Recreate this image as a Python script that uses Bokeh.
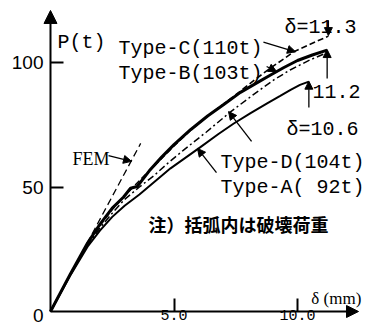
from bokeh.plotting import figure
from bokeh.models import Range1d, LinearAxis, FixedTicker, Arrow, NormalHead, Label
from bokeh.embed import file_html
from bokeh.resources import INLINE

# ---------------- data ----------------
typeA_x = [0, 0.8, 1.5, 2.0, 2.5, 3.0, 3.6, 4.2, 4.86, 5.5, 6.07, 6.8, 7.42, 8.1, 8.77, 9.3, 9.72, 10.1, 10.46]
typeA_y = [0, 14.5, 26, 32.5, 38, 42.5, 47, 52, 57.5, 62, 66, 71.3, 75.5, 79.7, 83.6, 86.6, 89, 91, 92.3]

typeB_x = [0, 0.8, 1.5, 2.0, 2.5, 2.96, 3.24, 3.51, 4.0, 4.5, 5.0, 5.67, 6.36, 7.0, 7.69, 8.3, 8.91, 9.45, 10.0, 10.6, 11.2]
typeB_y = [0, 15, 27.5, 35, 41.5, 46, 49.5, 50.2, 56.5, 62, 67, 73, 78.5, 83, 88, 91.5, 95, 98, 100.8, 103, 105]

typeC_x = [0, 0.8, 1.5, 2.0, 2.5, 3.0, 3.5, 4.0, 4.5, 5.0, 5.67, 6.36, 7.0, 7.69, 8.3, 8.91, 9.45, 9.85, 10.4, 10.8, 11.25]
typeC_y = [0, 15, 27, 34.5, 41, 46.5, 51.5, 56.5, 61.5, 66.5, 72.8, 78.5, 83.3, 88.5, 93.3, 97.8, 101.5, 104.3, 106.8, 108.6, 110.6]

typeD_x = [0, 0.8, 1.5, 2.0, 2.5, 3.0, 3.6, 4.18, 4.8, 5.4, 6.3, 7.29, 8.2, 9.04, 9.7, 10.5, 11.2]
typeD_y = [0, 15, 26.5, 33.5, 39.5, 45, 50, 54.5, 60, 64.9, 72, 80.2, 87, 93, 97, 101, 104]

fem_x = [0, 3.65]
fem_y = [0, 67.5]

x_tick_vals = [5, 10]
x_tick_labels = ["5.0", "10.0"]
y_tick_vals = [50, 100]
y_tick_labels = ["50", "100"]
origin_label = "0"

series_labels = ["Type-C(110t)", "Type-B(103t)", "Type-D(104t)", "Type-A( 92t)"]
end_labels = ["δ=11.3", "11.2", "δ=10.6"]
fem_label = "FEM"
note_label = "注）括弧内は破壊荷重"
x_title = "δ (mm)"
y_title = "P(t)"

# ---------------- figure ----------------
p = figure(width=368, height=326,
           x_range=Range1d(-2.024, 12.874), y_range=Range1d(-6.024, 124.9),
           x_axis_type=None, y_axis_type=None,
           toolbar_location=None, output_backend="svg", min_border=0)
p.outline_line_color = None
p.background_fill_color = "white"
p.border_fill_color = "white"

MONO = "Liberation Mono"

xaxis = LinearAxis(fixed_location=0, ticker=FixedTicker(ticks=x_tick_vals),
                   major_label_overrides={v: t for v, t in zip(x_tick_vals, x_tick_labels)})
yaxis = LinearAxis(fixed_location=0, ticker=FixedTicker(ticks=y_tick_vals),
                   major_label_overrides={v: t for v, t in zip(y_tick_vals, y_tick_labels)})
for ax in (xaxis, yaxis):
    ax.axis_line_color = None
    ax.major_tick_in = 13
    ax.major_tick_out = 0
    ax.major_tick_line_width = 2
    ax.major_tick_line_color = "black"
    ax.minor_tick_line_color = None
    ax.major_label_text_color = "black"
xaxis.major_label_text_font = MONO
xaxis.major_label_text_font_size = "15px"
xaxis.major_label_standoff = -2
yaxis.major_label_text_font = "Liberation Sans"
yaxis.major_label_text_font_size = "19px"
yaxis.major_label_standoff = 7
p.add_layout(xaxis, "below")
p.add_layout(yaxis, "left")

# axis lines with arrow heads
p.add_layout(Arrow(end=NormalHead(size=13, fill_color="black", line_color="black"),
                   x_start=0, y_start=0, x_end=0, y_end=120.9, line_width=2))
p.add_layout(Arrow(end=NormalHead(size=12, fill_color="black", line_color="black"),
                   x_start=0, y_start=0, x_end=12.47, y_end=0, line_width=2))

# curves
p.line(fem_x, fem_y, line_color="black", line_width=1.3, line_dash="7 4")
p.line(typeA_x, typeA_y, line_color="black", line_width=2)
p.line(typeD_x, typeD_y, line_color="black", line_width=1.5, line_dash="7 3 2 3")
p.line(typeC_x, typeC_y, line_color="black", line_width=1.6, line_dash="6 3")
p.line(typeB_x, typeB_y, line_color="black", line_width=3)

def lab(x, y, t, font=MONO, size="20px", align="left", baseline="alphabetic", style="normal"):
    p.add_layout(Label(x=x, y=y, text=t, text_font=font, text_font_size=size,
                       text_align=align, text_baseline=baseline, text_color="black",
                       text_font_style=style))

lab(0.283, 108.0, y_title)
lab(2.753, 105.6, series_labels[0])
lab(2.753, 95.6, series_labels[1])
lab(6.883, 59.8, series_labels[2])
lab(6.883, 49.8, series_labels[3])
lab(9.474, 114.1, end_labels[0])
lab(10.607, 88.4, end_labels[1])
lab(9.555, 73.1, end_labels[2])
lab(0.891, 61.4, fem_label, font="Liberation Serif", size="18px")
lab(3.968, 35.3, note_label, font="Noto Sans CJK JP", size="18px", baseline="middle", style="bold")
lab(10.56, 5.2, x_title, font="Liberation Serif", size="17px")
lab(-0.283, -1.6, origin_label, font="Liberation Sans", size="19px", align="right", baseline="middle")

def leader(xs, ys, xe, ye, size=8):
    p.add_layout(Arrow(end=NormalHead(size=size, fill_color="black", line_color="black"),
                       x_start=xs, y_start=ys, x_end=xe, y_end=ye, line_width=1.3))

leader(8.62, 108.2, 9.92, 104.3)   # Type-C
leader(8.75, 98.4, 9.15, 96.4)     # Type-B
leader(8.14, 68.3, 7.21, 80.3)     # Type-D
leader(6.72, 55.8, 5.95, 65.5)     # Type-A
leader(2.35, 62.6, 3.28, 60.3)     # FEM
leader(11.25, 117.0, 11.25, 110.8) # delta=11.3
leader(11.2, 93.6, 11.2, 105.2)    # 11.2
leader(10.46, 81.9, 10.46, 92.5)   # delta=10.6

open("out.html", "w").write(file_html(p, INLINE))
